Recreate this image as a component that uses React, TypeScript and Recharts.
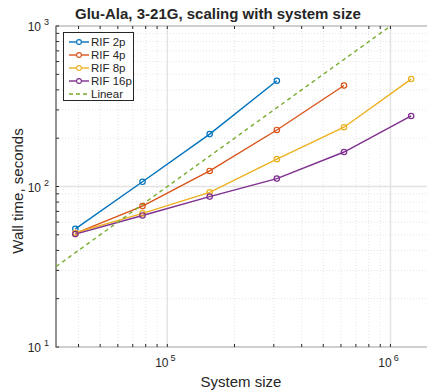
// Glu-Ala 3-21G: wall time vs system size, log-log, MATLAB look
import { ComposedChart, Line, XAxis, YAxis, ReferenceLine, Customized } from 'recharts';

const sizes = [38700, 77400, 154800, 309600, 619200, 1238400];
const rif2p = [54.5, 107, 212, 456];
const rif4p = [51, 75.5, 125, 225, 426];
const rif8p = [51.5, 68, 92, 148, 234, 467];
const rif16p = [50.5, 66, 86.5, 112, 164, 275];
const linearX = [31700, 1000000];
const linearY = [31.7, 1000];

const xTicks = [40000, 50000, 60000, 70000, 80000, 90000, 100000, 200000, 300000, 400000, 500000, 600000, 700000, 800000, 900000, 1000000];
const yTicks = [10, 20, 30, 40, 50, 60, 70, 80, 90, 100, 200, 300, 400, 500, 600, 700, 800, 900, 1000];

const X_DOMAIN = [31700, 1600000];
const Y_DOMAIN = [10, 1000];

const series = [
    { name: 'RIF 2p', values: rif2p, color: '#0072BD' },
    { name: 'RIF 4p', values: rif4p, color: '#D95319' },
    { name: 'RIF 8p', values: rif8p, color: '#EDB120' },
    { name: 'RIF 16p', values: rif16p, color: '#7E2F8E' },
];
const LINEAR_COLOR = '#77AC30';

const TOP = 26;
const BOTTOM = 347;
const LEFT = 56;
const RIGHT = 436;
const INK = '#262626';
const FONT = '"Liberation Sans", Arial, sans-serif';

const isPow10 = (v: number) => Math.abs(Math.log10(v) - Math.round(Math.log10(v))) < 1e-9;

function XTick(props: any) {
    const { x, payload } = props;
    const v = payload.value;
    return (
        <g>
            <line x1={x} x2={x} y1={BOTTOM} y2={BOTTOM - 3} stroke={INK} />
            <line x1={x} x2={x} y1={TOP} y2={TOP + 3} stroke={INK} />
            {isPow10(v) && (
                <text x={x - 2} y={367} textAnchor="middle" fontSize={12} fill={INK} fontFamily={FONT}>
                    10<tspan fontSize={9} dx={2} dy={-6}>{Math.round(Math.log10(v))}</tspan>
                </text>
            )}
        </g>
    );
}

function YTick(props: any) {
    const { y, payload } = props;
    const v = payload.value;
    return (
        <g>
            <line x1={LEFT} x2={LEFT + 3} y1={y} y2={y} stroke={INK} />
            <line x1={RIGHT - 3} x2={RIGHT} y1={y} y2={y} stroke={INK} />
            {isPow10(v) && (
                <text x={49} y={y + 5} textAnchor="end" fontSize={12} fill={INK} fontFamily={FONT}>
                    10<tspan fontSize={9} dx={3} dy={-6}>{Math.round(Math.log10(v))}</tspan>
                </text>
            )}
        </g>
    );
}

function LegendBox() {
    const rows = [...series.map(s => ({ name: s.name, color: s.color, dashed: false })), { name: 'Linear', color: LINEAR_COLOR, dashed: true }];
    return (
        <div style={{ position: 'absolute', left: 63, top: 32, width: 71, height: 69, border: '1px solid #262626', background: '#fff', boxSizing: 'border-box', padding: '2px 0 0 4px', fontFamily: FONT, fontSize: 11.5, color: INK }}>
            {rows.map(r => (
                <div key={r.name} style={{ display: 'flex', alignItems: 'center', height: 13 }}>
                    <svg width={22} height={10}>
                        <line x1={1} x2={21} y1={5} y2={5} stroke={r.color} strokeWidth={1.4} strokeDasharray={r.dashed ? '4 3' : undefined} />
                        {!r.dashed && <circle cx={11} cy={5} r={2.4} fill="#fff" stroke={r.color} strokeWidth={1.1} />}
                    </svg>
                    <span style={{ marginLeft: 1 }}>{r.name}</span>
                </div>
            ))}
        </div>
    );
}

function Labels() {
    return (
        <g fontFamily={FONT} fill={INK}>
            <rect x={LEFT} y={TOP} width={RIGHT - LEFT} height={BOTTOM - TOP} fill="none" stroke={INK} strokeWidth={1} />
            <text x={218} y={19} textAnchor="middle" fontSize={15} fontWeight="bold">Glu-Ala, 3-21G, scaling with system size</text>
            <text x={241} y={387} textAnchor="middle" fontSize={15}>System size</text>
            <text x={23} y={191} textAnchor="middle" fontSize={15} transform="rotate(-90 23 191)">Wall time, seconds</text>
        </g>
    );
}

export default function App() {
    const lineData = series.map(s => s.values.map((v, i) => ({ x: sizes[i], y: v })));
    const linearData = linearX.map((x, i) => ({ x, y: linearY[i] }));

    return (
        <div style={{ position: 'relative', margin: '-8px 0 0 -8px', width: 435, height: 391, overflow: 'hidden' }}>
            <ComposedChart width={440} height={391} margin={{ top: TOP, right: 4, bottom: 0, left: 0 }}>
                <XAxis type="number" dataKey="x" scale="log" domain={X_DOMAIN} ticks={xTicks} allowDataOverflow
                    height={44} tick={<XTick />} tickLine={false} axisLine={false} interval={0} />
                <YAxis type="number" dataKey="y" scale="log" domain={Y_DOMAIN} ticks={yTicks} allowDataOverflow
                    width={56} tick={<YTick />} tickLine={false} axisLine={false} interval={0} />
                {xTicks.map(v => (
                    <ReferenceLine key={'gx' + v} x={v} stroke={isPow10(v) ? '#e3e3e3' : '#dcdcdc'}
                        strokeWidth={isPow10(v) ? 1.5 : 0.8} strokeDasharray={isPow10(v) ? undefined : '1 2'} />
                ))}
                {yTicks.map(v => (
                    <ReferenceLine key={'gy' + v} y={v} stroke={isPow10(v) ? '#e3e3e3' : '#dcdcdc'}
                        strokeWidth={isPow10(v) ? 1.5 : 0.8} strokeDasharray={isPow10(v) ? undefined : '1 2'} />
                ))}
                {series.map((s, i) => (
                    <Line key={s.name} data={lineData[i]} dataKey="y" name={s.name} stroke={s.color} strokeWidth={1.4}
                        dot={{ r: 2.7, fill: 'none', stroke: s.color, strokeWidth: 1.2 }} isAnimationActive={false} />
                ))}
                <Line data={linearData} dataKey="y" name="Linear" stroke={LINEAR_COLOR} strokeWidth={1.4}
                    strokeDasharray="4 3.5" dot={false} isAnimationActive={false} />
                <Customized component={<Labels />} />
            </ComposedChart>
            <LegendBox />
        </div>
    );
}
